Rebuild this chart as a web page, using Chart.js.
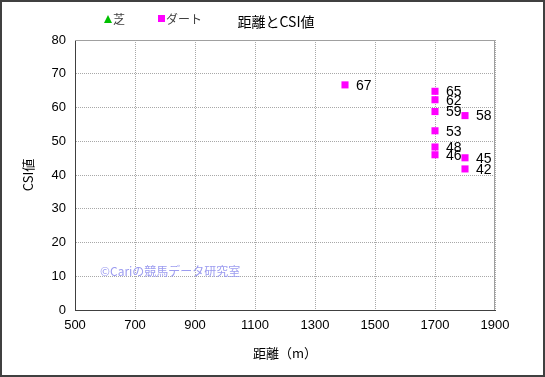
<!DOCTYPE html>
<html><head><meta charset="utf-8">
<script src="https://cdn.jsdelivr.net/npm/chart.js@4/dist/chart.umd.min.js"></script>
<style>html,body{margin:0;padding:0;background:#fff;}#wrap{width:545px;height:377px;position:relative;}</style>
</head><body><div id="wrap"><canvas id="c" width="545" height="377"></canvas></div>
<script>
const chartTitle = '距離とCSI値';
const seriesNames = ['芝', 'ダート'];
const turfDistance = [];
const turfCSI = [];
const dirtDistance = [1400, 1700, 1700, 1700, 1700, 1700, 1700, 1800, 1800, 1800];
const dirtCSI = [66.7, 64.8, 62.3, 58.8, 53.1, 48.3, 46.0, 57.6, 45.1, 41.8];
const dirtLabels = ['67', '65', '62', '59', '53', '48', '46', '58', '45', '42'];
const xTitle = '距離（m）';
const yTitle = 'CSI値';
const watermark = '©Cariの競馬データ研究室';

const FONT = '"Liberation Sans", "Noto Sans CJK JP", sans-serif';
const JFONT = '"Noto Sans CJK JP", "Liberation Sans", sans-serif';

const decor = {
  id: 'decor',
  beforeDatasetsDraw(chart) {
    const ctx = chart.ctx, a = chart.chartArea;
    ctx.save();
    ctx.strokeStyle = '#a0a0a0';
    ctx.lineWidth = 1;
    ctx.beginPath();
    ctx.moveTo(a.left, a.top + 0.5); ctx.lineTo(a.right - 0.5, a.top + 0.5); ctx.lineTo(a.right - 0.5, a.bottom);
    ctx.stroke();
    ctx.fillStyle = '#9c9cf0';
    ctx.font = '12px ' + JFONT;
    ctx.textBaseline = 'middle';
    ctx.textAlign = 'left';
    ctx.fillText(watermark, 100, 271);
    ctx.restore();
  },
  afterDraw(chart) {
    const ctx = chart.ctx;
    ctx.save();
    const meta = chart.getDatasetMeta(1);
    ctx.fillStyle = '#000';
    ctx.font = '14px ' + FONT;
    ctx.textBaseline = 'middle';
    ctx.textAlign = 'left';
    meta.data.forEach((pt, i) => {
      ctx.fillText(dirtLabels[i], pt.x + 11, pt.y + 1);
    });
    ctx.font = '14px ' + JFONT;
    ctx.textAlign = 'center';
    ctx.fillText(chartTitle, 276, 22);
    ctx.textAlign = 'left';
    ctx.font = '12px ' + JFONT;
    ctx.fillStyle = '#00c000';
    ctx.beginPath();
    ctx.moveTo(104, 23); ctx.lineTo(112, 23); ctx.lineTo(108, 15); ctx.closePath(); ctx.fill();
    ctx.fillStyle = '#404040';
    ctx.fillText(seriesNames[0], 113, 19);
    ctx.fillStyle = '#ff00ff';
    ctx.fillRect(158, 15, 7, 7);
    ctx.fillStyle = '#404040';
    ctx.fillText(seriesNames[1], 166, 19);
    ctx.strokeStyle = '#404040';
    ctx.lineWidth = 2;
    ctx.strokeRect(1, 1, 543, 375);
    ctx.restore();
  }
};

new Chart(document.getElementById('c'), {
  type: 'scatter',
  data: {
    datasets: [
      { label: seriesNames[0], data: turfDistance.map((x, i) => ({x, y: turfCSI[i]})), pointStyle: 'triangle', backgroundColor: '#00c000', borderColor: '#00c000', pointRadius: 5 },
      { label: seriesNames[1], data: dirtDistance.map((x, i) => ({x, y: dirtCSI[i]})), pointStyle: 'rect', backgroundColor: '#ff00ff', borderColor: '#ff00ff', pointRadius: 5, borderWidth: 0 }
    ]
  },
  options: {
    responsive: false,
    animation: false,
    layout: { padding: { left: 0, right: 50, top: 40, bottom: 0 } },
    plugins: { legend: { display: false }, title: { display: false }, tooltip: { enabled: false } },
    scales: {
      x: {
        type: 'linear', min: 500, max: 1900,
        ticks: { stepSize: 200, color: '#000', font: { size: 13, family: FONT }, padding: 8, maxRotation: 0, callback: v => String(v) },
        grid: { color: '#a8a8a8', drawTicks: false, lineWidth: 1 },
        border: { color: '#404040', width: 1, dash: [1, 1] },
        title: { display: true, text: xTitle, color: '#000', font: { size: 13, family: JFONT }, padding: { top: 0, bottom: 16 } },
        afterFit(s) { s.height = 67; }
      },
      y: {
        type: 'linear', min: 0, max: 80,
        ticks: { stepSize: 10, color: '#000', font: { size: 13, family: FONT }, padding: 9, callback: v => String(v) },
        grid: { color: '#a8a8a8', drawTicks: false, lineWidth: 1 },
        border: { color: '#404040', width: 1, dash: [1, 1] },
        title: { display: true, text: yTitle, color: '#000', font: { size: 13, family: JFONT }, padding: { top: 20, bottom: 0 } },
        afterFit(s) { s.width = 75; }
      }
    }
  },
  plugins: [decor]
});
</script>
</body></html>
